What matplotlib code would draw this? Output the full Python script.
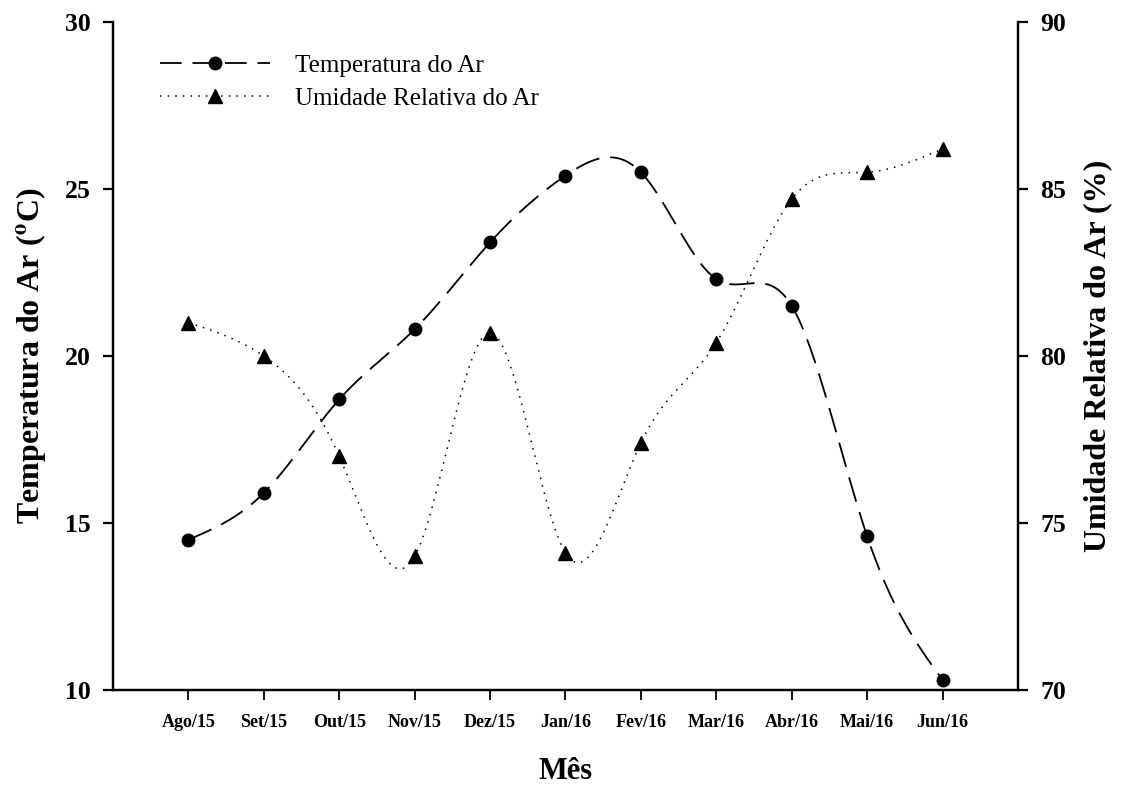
import numpy as np
import matplotlib
matplotlib.use("Agg")
import matplotlib.pyplot as plt

plt.rcParams['font.family'] = ['Liberation Serif', 'DejaVu Serif']
plt.rcParams['mathtext.fontset'] = 'stix'

meses = ['Ago/15', 'Set/15', 'Out/15', 'Nov/15', 'Dez/15', 'Jan/16',
         'Fev/16', 'Mar/16', 'Abr/16', 'Mai/16', 'Jun/16']
temperatura = [14.5, 15.9, 18.7, 20.8, 23.4, 25.4, 25.5, 22.3, 21.5, 14.6, 10.3]
umidade = [81.0, 80.0, 77.0, 74.0, 80.7, 74.1, 77.4, 80.4, 84.7, 85.5, 86.2]


def natural_spline(x, y, n=400):
    # natural cubic spline, like the smooth curve of the original software
    x = np.asarray(x, float)
    y = np.asarray(y, float)
    k = len(x)
    h = np.diff(x)
    A = np.zeros((k, k))
    r = np.zeros(k)
    A[0, 0] = 1
    A[-1, -1] = 1
    for i in range(1, k - 1):
        A[i, i - 1] = h[i - 1]
        A[i, i] = 2 * (h[i - 1] + h[i])
        A[i, i + 1] = h[i]
        r[i] = 6 * ((y[i + 1] - y[i]) / h[i] - (y[i] - y[i - 1]) / h[i - 1])
    m = np.linalg.solve(A, r)
    xs = np.linspace(x[0], x[-1], n)
    idx = np.clip(np.searchsorted(x, xs) - 1, 0, k - 2)
    x0, x1 = x[idx], x[idx + 1]
    hh = x1 - x0
    a = (x1 - xs) / hh
    b = (xs - x0) / hh
    ys = (a * y[idx] + b * y[idx + 1]
          + ((a ** 3 - a) * m[idx] + (b ** 3 - b) * m[idx + 1]) * hh ** 2 / 6)
    return xs, ys


x = np.arange(len(meses))

fig = plt.figure(figsize=(11.25, 7.85), dpi=100)
ax = fig.add_axes([0.1004, 0.121, 0.8045, 0.851])
ax2 = ax.twinx()

xs, ts = natural_spline(x, temperatura)
ax.plot(xs, ts, color='black', lw=1.3, dashes=(14, 6))
ax.plot(x, temperatura, 'o', color='black', ms=9)
l1, = ax.plot([], [], color='black', lw=1.3, dashes=(12, 6), marker='o', ms=9,
              label='Temperatura do Ar')

xs, us = natural_spline(x, umidade)
ax2.plot(xs, us, color='black', lw=1.1, ls=(0, (1, 4)))
ax2.plot(x, umidade, '^', color='black', ms=10)
l2, = ax2.plot([], [], color='black', lw=1.1, ls=(0, (1, 4)), marker='^', ms=10,
               label='Umidade Relativa do Ar')

ax.set_xlim(-1, 11)
ax.set_ylim(10, 30)
ax2.set_ylim(70, 90)
ax.set_yticks([10, 15, 20, 25, 30])
ax2.set_yticks([70, 75, 80, 85, 90])
ax.set_xticks(x)
ax.set_xticklabels(meses, fontsize=13, fontweight='bold')

for a in (ax, ax2):
    a.spines['top'].set_visible(False)
    for s in a.spines.values():
        s.set_linewidth(1.6)
    a.tick_params(axis='y', labelsize=18.5, width=1.6, length=7, direction='out', pad=9)
    for lab in a.get_yticklabels():
        lab.set_fontweight('bold')
ax.tick_params(axis='x', width=1.3, length=7, direction='out', pad=10)

ax.set_xlabel('Mês', fontsize=22, fontweight='bold', labelpad=19)
ax.set_ylabel(r'Temperatura do Ar ($\mathbf{^o}$C)', fontsize=23, fontweight='bold', labelpad=12)
ax2.set_ylabel('Umidade Relativa do Ar (%)', fontsize=23, fontweight='bold', labelpad=12)

ax.legend(handles=[l1, l2], loc='upper left', bbox_to_anchor=(0.027, 0.985),
          frameon=False, fontsize=18, handlelength=4.4, handletextpad=1.0,
          labelspacing=0.4)

fig.savefig('out.png', dpi=100)
